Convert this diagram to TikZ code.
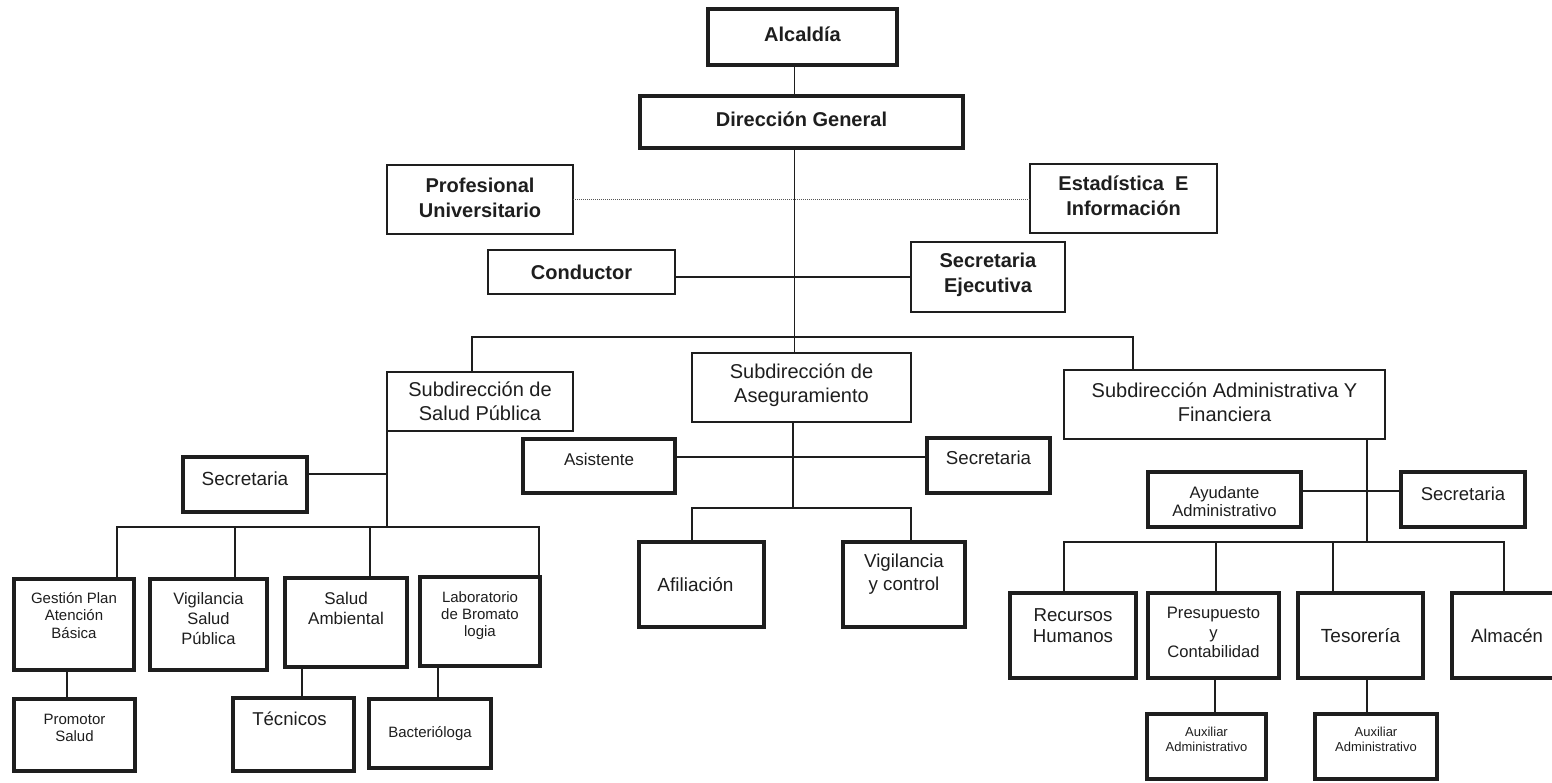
\documentclass[tikz,border=0pt]{standalone}
\usepackage{fontspec}
\setmainfont{Liberation Sans}
\definecolor{ink}{HTML}{1E1E1E}
\tikzset{
  base/.style={rectangle, inner sep=0pt, outer sep=0pt, draw=ink, fill=white},
  tbox/.style={base, line width=1.5pt},
  kbox/.style={base, line width=3.4pt},
  sz/.style 2 args={minimum width=#1pt, minimum height=#2pt},
  lab/.style 2 args={font=\fontsize{#1}{#2}\selectfont, text=ink, align=center, inner sep=0pt},
  blab/.style 2 args={lab={#1}{#2}, font=\fontsize{#1}{#2}\selectfont\bfseries},
  conn/.style={draw=ink, line width=1.3pt},
  dots/.style={draw=ink!75, line width=1pt, densely dotted},
}
\begin{document}
\begin{tikzpicture}[x=1pt,y=-1pt]
\useasboundingbox (0,0) rectangle (1552,783);
\fill[white] (0,0) rectangle (1552,783);

% ---- top level ----
\node[kbox, sz={189}{56}, label={[blab={20}{23}, yshift=3pt, name=alcL]center:Alcaldía}] (alc) at (802.5,37) {};
\node[kbox, sz={323}{52}, label={[blab={20}{23}, yshift=3pt, name=dirL]center:Dirección General}] (dir) at (801.5,122) {};
\node[tbox, sz={186}{69}, label={[blab={20}{25}, yshift=2pt, name=profL]center:Profesional\\Universitario}] (prof) at (480,199.5) {};
\node[tbox, sz={187}{69}, label={[blab={20}{25}, yshift=2.5pt, name=estL]center:Estadística~~E\\Información}] (est) at (1123.5,198.5) {};
\node[tbox, sz={187}{44}, label={[blab={20}{23}, name=condL]center:Conductor}] (cond) at (581.5,272) {};
\node[tbox, sz={154}{70}, label={[blab={20}{25}, yshift=2.5pt, name=seceL]center:Secretaria\\Ejecutiva}] (sece) at (988,277) {};

% ---- subdirecciones ----
\node[tbox, sz={186}{59}, label={[lab={20}{24}, name=spL]center:Subdirección de\\Salud Pública}] (sp) at (480,401.5) {};
\node[tbox, sz={219}{69}, label={[lab={20}{24}, yshift=2.5pt, name=asegL]center:Subdirección de\\Aseguramiento}] (aseg) at (801.5,387.5) {};
\node[tbox, sz={321}{69}, label={[lab={20}{24}, yshift=2.5pt, name=admL]center:Subdirección Administrativa Y\\Financiera}] (adm) at (1224.5,404.5) {};

% ---- salud publica ----
\node[kbox, sz={124}{55}, label={[lab={19}{22}, yshift=6pt, name=secspL]center:Secretaria}] (secsp) at (245,484.5) {};
\node[kbox, sz={120}{91}, label={[lab={15}{17.5}, yshift=9pt, name=gesL]center:Gestión Plan\\Atención\\Básica}] (ges) at (74,624.5) {};
\node[kbox, sz={117}{91}, label={[lab={16.5}{20}, yshift=6pt, name=vspL]center:Vigilancia\\Salud\\Pública}] (vsp) at (208.5,624.5) {};
\node[kbox, sz={122}{89}, label={[lab={17}{20}, yshift=14pt, name=sambL]center:Salud\\Ambiental}] (samb) at (346,622.5) {};
\node[kbox, sz={120}{89}, label={[lab={15}{17}, yshift=6pt, name=labL]center:Laboratorio\\de Bromato\\logia}] (lab) at (480,621.5) {};
\node[kbox, sz={121}{72}, label={[lab={15}{17}, yshift=7.5pt, name=promL]center:Promotor\\Salud}] (prom) at (74.5,735) {};
\node[kbox, sz={121}{73}, label={[lab={18.6}{22}, yshift=15.5pt, xshift=-4pt, name=tecL]center:Técnicos}] (tec) at (293.5,734.5) {};
\node[kbox, sz={122}{69}, label={[lab={15}{17}, name=bactL]center:Bacterióloga}] (bact) at (430,733.5) {};

% ---- aseguramiento ----
\node[kbox, sz={152}{54}, label={[lab={17}{20}, yshift=7pt, name=asisL]center:Asistente}] (asis) at (599,466) {};
\node[kbox, sz={123}{55}, label={[lab={18.7}{22}, yshift=7.5pt, name=secasL]center:Secretaria}] (secas) at (988.5,465.5) {};
\node[kbox, sz={125}{85}, label={[lab={19}{22}, xshift=-6pt, name=afilL]center:Afiliación}] (afil) at (701.5,584.5) {};
\node[kbox, sz={122}{85}, label={[lab={18.7}{23}, yshift=10pt, name=vycL]center:Vigilancia\\y control}] (vyc) at (904,584.5) {};

% ---- administrativa ----
\node[kbox, sz={153}{55}, label={[lab={16.6}{18}, yshift=-2pt, name=ayuL]center:Ayudante\\Administrativo}] (ayu) at (1224.5,499.5) {};
\node[kbox, sz={124}{55}, label={[lab={18.5}{22}, yshift=6pt, name=secadL]center:Secretaria}] (secad) at (1463,499.5) {};
\node[kbox, sz={126}{85}, label={[lab={18.7}{21}, yshift=10pt, name=recL]center:Recursos\\Humanos}] (rec) at (1073,635.5) {};
\node[kbox, sz={131}{85}, label={[lab={16.6}{19.5}, yshift=3pt, name=presL]center:Presupuesto\\y\\Contabilidad}] (pres) at (1213.5,635.5) {};
\node[kbox, sz={125}{85}, label={[lab={19}{22}, name=tesL]center:Tesorería}] (tes) at (1360.5,635.5) {};
\node[kbox, sz={110}{85}, label={[lab={18.5}{22}, name=almL]center:Almacén}] (alm) at (1507,635.5) {};
\node[kbox, sz={119}{65}, label={[lab={13}{15}, yshift=7pt, name=aux1L]center:Auxiliar\\Administrativo}] (aux1) at (1206.5,746.5) {};
\node[kbox, sz={122}{65}, label={[lab={13}{15}, yshift=7pt, name=aux2L]center:Auxiliar\\Administrativo}] (aux2) at (1376,746.5) {};

% ---- junction coordinates ----
\coordinate (mx) at (794.5,0);
\coordinate (busL) at (472,337);
\coordinate (busR) at (1133,337);
\coordinate (sb1) at (117,527);
\coordinate (sb2) at (235,527);
\coordinate (sb3) at (370,527);
\coordinate (sb4) at (539,527);
\coordinate (ab0) at (793,508);
\coordinate (ab1) at (692,508);
\coordinate (ab2) at (911,508);
\coordinate (ad0) at (1367,542);
\coordinate (d1) at (1064,542);
\coordinate (d2) at (1216,542);
\coordinate (d3) at (1333,542);
\coordinate (d4) at (1504,542);
\coordinate (v1) at (67,0);
\coordinate (v2) at (302,0);
\coordinate (v3) at (438,0);
\coordinate (v4) at (1215,0);
\coordinate (v5) at (1367,0);

% ---- connectors ----
\draw[conn] (alc.south -| mx) -- (dir.north -| mx);
\draw[conn] (dir.south -| mx) -- (aseg.north -| mx);
\draw[dots] (prof.east) -- (prof.east -| est.west);
\draw[conn] (cond.east |- sece.west) -- (sece.west);
\draw[conn] (sp.north -| busL) -- (busL) -- (busR) -- (adm.north -| busR);

\draw[conn] (sp.south west) -- (sp.south west |- sb1);
\draw[conn] ([yshift=10.5pt]secsp.east) -- ([yshift=10.5pt]secsp.east -| sp.south west);
\draw[conn] (ges.north -| sb1) -- (sb1) -- (sb4) -- (lab.north -| sb4);
\draw[conn] (sb2) -- (vsp.north -| sb2);
\draw[conn] (sb3) -- (samb.north -| sb3);
\draw[conn] (ges.south -| v1) -- (prom.north -| v1);
\draw[conn] (samb.south -| v2) -- (tec.north -| v2);
\draw[conn] (lab.south -| v3) -- (bact.north -| v3);

\draw[conn] (aseg.south -| ab0) -- (ab0);
\draw[conn] ([yshift=9pt]asis.east) -- ([yshift=9pt]asis.east -| secas.west);
\draw[conn] (afil.north -| ab1) -- (ab1) -- (ab2) -- (vyc.north -| ab2);

\draw[conn] (adm.south -| ad0) -- (ad0);
\draw[conn] ([yshift=8.5pt]ayu.east) -- ([yshift=8.5pt]ayu.east -| secad.west);
\draw[conn] (rec.north -| d1) -- (d1) -- (d4) -- (alm.north -| d4);
\draw[conn] (d2) -- (pres.north -| d2);
\draw[conn] (d3) -- (tes.north -| d3);
\draw[conn] (pres.south -| v4) -- (aux1.north -| v4);
\draw[conn] (tes.south -| v5) -- (aux2.north -| v5);
\end{tikzpicture}
\end{document}
